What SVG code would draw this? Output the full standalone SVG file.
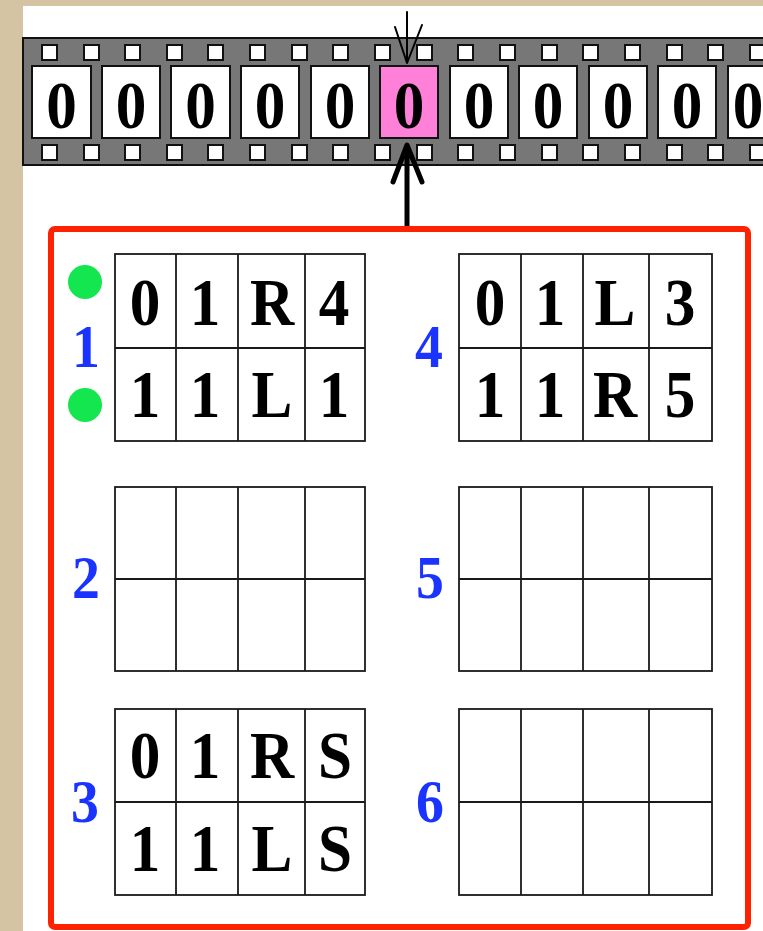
<svg xmlns="http://www.w3.org/2000/svg" width="763" height="931" viewBox="0 0 763 931">
<defs>
<style>
.bg{fill:#d5c4a3}
.panel{fill:#ffffff}
.strip{fill:#777777;stroke:#111;stroke-width:2}
.hole{fill:#ffffff;stroke:#111;stroke-width:2}
.cell{fill:#ffffff;stroke:#111;stroke-width:2}
.head{fill:#ff80d8;stroke:#111;stroke-width:2}
.big{font-family:"Liberation Serif","Times New Roman",serif;font-weight:bold;font-size:68px;fill:#000;text-anchor:middle}
.lbl{font-family:"Liberation Serif","Times New Roman",serif;font-weight:bold;font-size:62px;fill:#1a33ff;text-anchor:middle}
.grid{fill:#ffffff;stroke:#1a1a1a;stroke-width:1.8}
.gl{stroke:#1a1a1a;stroke-width:1.8;fill:none}
.box{fill:none;stroke:#ff2200;stroke-width:6}
.dot{fill:#14e650}
.arr{fill:none;stroke:#000;stroke-linecap:round;stroke-linejoin:round}
</style>
</defs>
<rect class="bg" x="0" y="0" width="763" height="931"/>
<rect class="panel" x="23" y="6" width="740" height="925"/>

<g id="tape">
<rect class="strip" x="23" y="38" width="745" height="127"/>
<g id="holes-top">
<rect class="hole" x="42" y="45" width="15" height="15"/>
<rect class="hole" x="84" y="45" width="15" height="15"/>
<rect class="hole" x="125" y="45" width="15" height="15"/>
<rect class="hole" x="167" y="45" width="15" height="15"/>
<rect class="hole" x="208" y="45" width="15" height="15"/>
<rect class="hole" x="250" y="45" width="15" height="15"/>
<rect class="hole" x="292" y="45" width="15" height="15"/>
<rect class="hole" x="333" y="45" width="15" height="15"/>
<rect class="hole" x="375" y="45" width="15" height="15"/>
<rect class="hole" x="417" y="45" width="15" height="15"/>
<rect class="hole" x="458" y="45" width="15" height="15"/>
<rect class="hole" x="500" y="45" width="15" height="15"/>
<rect class="hole" x="542" y="45" width="15" height="15"/>
<rect class="hole" x="583" y="45" width="15" height="15"/>
<rect class="hole" x="625" y="45" width="15" height="15"/>
<rect class="hole" x="667" y="45" width="15" height="15"/>
<rect class="hole" x="708" y="45" width="15" height="15"/>
<rect class="hole" x="750" y="45" width="15" height="15"/>
</g>
<g id="holes-bottom">
<rect class="hole" x="42" y="145" width="15" height="15"/>
<rect class="hole" x="84" y="145" width="15" height="15"/>
<rect class="hole" x="125" y="145" width="15" height="15"/>
<rect class="hole" x="167" y="145" width="15" height="15"/>
<rect class="hole" x="208" y="145" width="15" height="15"/>
<rect class="hole" x="250" y="145" width="15" height="15"/>
<rect class="hole" x="292" y="145" width="15" height="15"/>
<rect class="hole" x="333" y="145" width="15" height="15"/>
<rect class="hole" x="375" y="145" width="15" height="15"/>
<rect class="hole" x="417" y="145" width="15" height="15"/>
<rect class="hole" x="458" y="145" width="15" height="15"/>
<rect class="hole" x="500" y="145" width="15" height="15"/>
<rect class="hole" x="542" y="145" width="15" height="15"/>
<rect class="hole" x="583" y="145" width="15" height="15"/>
<rect class="hole" x="625" y="145" width="15" height="15"/>
<rect class="hole" x="667" y="145" width="15" height="15"/>
<rect class="hole" x="708" y="145" width="15" height="15"/>
<rect class="hole" x="750" y="145" width="15" height="15"/>
</g>
<g id="tape-cells">
<rect class="cell" x="32" y="66" width="59" height="72"/>
<rect class="cell" x="102" y="66" width="58" height="72"/>
<rect class="cell" x="171" y="66" width="59" height="72"/>
<rect class="cell" x="241" y="66" width="58" height="72"/>
<rect class="cell" x="311" y="66" width="58" height="72"/>
<rect class="head" x="380" y="66" width="58" height="72"/>
<rect class="cell" x="450" y="66" width="58" height="72"/>
<rect class="cell" x="519" y="66" width="58" height="72"/>
<rect class="cell" x="589" y="66" width="58" height="72"/>
<rect class="cell" x="658" y="66" width="58" height="72"/>
<rect class="cell" x="728" y="66" width="58" height="72"/>
</g>
<g id="tape-text">
<text class="big" transform="translate(61.5 128) scale(0.9 1)">0</text>
<text class="big" transform="translate(131 128) scale(0.9 1)">0</text>
<text class="big" transform="translate(200.5 128) scale(0.9 1)">0</text>
<text class="big" transform="translate(270 128) scale(0.9 1)">0</text>
<text class="big" transform="translate(340 128) scale(0.9 1)">0</text>
<text class="big" transform="translate(409 128) scale(0.9 1)">0</text>
<text class="big" transform="translate(479 128) scale(0.9 1)">0</text>
<text class="big" transform="translate(548 128) scale(0.9 1)">0</text>
<text class="big" transform="translate(618 128) scale(0.9 1)">0</text>
<text class="big" transform="translate(687 128) scale(0.9 1)">0</text>
<text class="big" transform="translate(748 128) scale(0.9 1)">0</text>
</g>
</g>

<g id="connectors">
<path class="arr" stroke-width="2" d="M407 12V63M395 27L407 63L422 25"/>
<path class="arr" stroke-width="5" d="M407 226V146M393 182L407 145L422 182"/>
</g>

<g id="machine">
<rect class="box" x="51" y="229" width="697" height="698" rx="4"/>
</g>

<g id="state1">
<circle class="dot" cx="85" cy="282" r="17"/>
<circle class="dot" cx="85" cy="405" r="17"/>
<text class="lbl" transform="translate(86 367) scale(0.9 1)">1</text>
<rect class="grid" x="115" y="254" width="250" height="187"/>
<path class="gl" d="M176 254V441M238 254V441M305 254V441M115 348H365"/>
<text class="big" transform="translate(145 325) scale(0.9 1)">0</text>
<text class="big" transform="translate(205 325) scale(0.9 1)">1</text>
<text class="big" transform="translate(272 325) scale(0.9 1)">R</text>
<text class="big" transform="translate(334 325) scale(0.9 1)">4</text>
<text class="big" transform="translate(145 417) scale(0.9 1)">1</text>
<text class="big" transform="translate(205 417) scale(0.9 1)">1</text>
<text class="big" transform="translate(272 417) scale(0.9 1)">L</text>
<text class="big" transform="translate(334 417) scale(0.9 1)">1</text>
</g>

<g id="state4">
<text class="lbl" transform="translate(429 367) scale(0.9 1)">4</text>
<rect class="grid" x="459" y="254" width="253" height="187"/>
<path class="gl" d="M521 254V441M583 254V441M649 254V441M459 348H712"/>
<text class="big" transform="translate(490 325) scale(0.9 1)">0</text>
<text class="big" transform="translate(550 325) scale(0.9 1)">1</text>
<text class="big" transform="translate(615 325) scale(0.9 1)">L</text>
<text class="big" transform="translate(680 325) scale(0.9 1)">3</text>
<text class="big" transform="translate(490 417) scale(0.9 1)">1</text>
<text class="big" transform="translate(550 417) scale(0.9 1)">1</text>
<text class="big" transform="translate(615 417) scale(0.9 1)">R</text>
<text class="big" transform="translate(680 417) scale(0.9 1)">5</text>
</g>

<g id="state2">
<text class="lbl" transform="translate(86 598) scale(0.9 1)">2</text>
<rect class="grid" x="115" y="487" width="250" height="184"/>
<path class="gl" d="M176 487V671M238 487V671M305 487V671M115 579H365"/>
</g>

<g id="state5">
<text class="lbl" transform="translate(430 598) scale(0.9 1)">5</text>
<rect class="grid" x="459" y="487" width="253" height="184"/>
<path class="gl" d="M521 487V671M583 487V671M649 487V671M459 579H712"/>
</g>

<g id="state3">
<text class="lbl" transform="translate(85 822) scale(0.9 1)">3</text>
<rect class="grid" x="115" y="709" width="250" height="186"/>
<path class="gl" d="M176 709V895M238 709V895M305 709V895M115 802H365"/>
<text class="big" transform="translate(145 778) scale(0.9 1)">0</text>
<text class="big" transform="translate(205 778) scale(0.9 1)">1</text>
<text class="big" transform="translate(272 778) scale(0.9 1)">R</text>
<text class="big" transform="translate(335 778) scale(0.9 1)">S</text>
<text class="big" transform="translate(145 871) scale(0.9 1)">1</text>
<text class="big" transform="translate(205 871) scale(0.9 1)">1</text>
<text class="big" transform="translate(272 871) scale(0.9 1)">L</text>
<text class="big" transform="translate(335 871) scale(0.9 1)">S</text>
</g>

<g id="state6">
<text class="lbl" transform="translate(430 822) scale(0.9 1)">6</text>
<rect class="grid" x="459" y="709" width="253" height="186"/>
<path class="gl" d="M521 709V895M583 709V895M649 709V895M459 802H712"/>
</g>
</svg>
